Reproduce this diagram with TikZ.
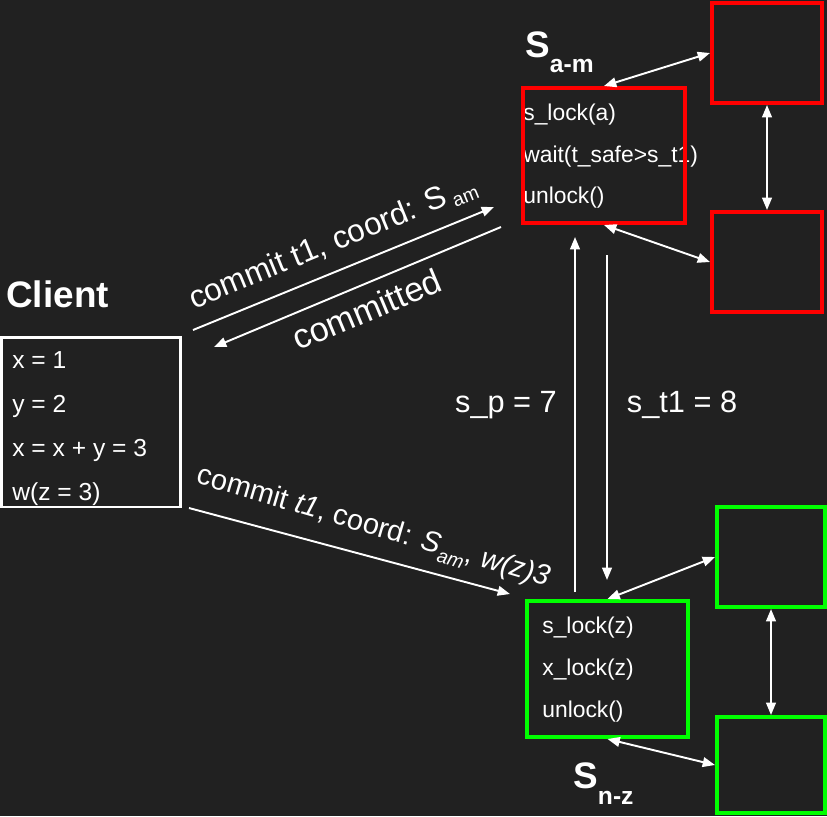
\documentclass[tikz,border=0pt]{standalone}
\usepackage{fontspec}
\setmainfont{Liberation Sans}
\usetikzlibrary{arrows.meta}
\definecolor{bgdark}{HTML}{212121}
\definecolor{srvred}{HTML}{FF0000}
\definecolor{srvgreen}{HTML}{00FF00}

\begin{document}
\begin{tikzpicture}[x=0.02cm,y=-0.02cm,
    every node/.style={text=white},
    msg/.style={white,line width=1.1pt,-{Triangle[length=7pt,width=5.5pt]}},
    link/.style={white,line width=1.1pt,{Triangle[length=7pt,width=5.5pt]}-{Triangle[length=7pt,width=5.5pt]}},
    redbox/.style={draw=srvred,line width=2.3pt,inner sep=0pt},
    greenbox/.style={draw=srvgreen,line width=2.3pt,inner sep=0pt},
    code/.style={anchor=base west,inner sep=0pt,font=\fontsize{13}{15}\selectfont},
    title/.style={anchor=base west,inner sep=0pt,font=\bfseries\fontsize{21}{25}\selectfont},
    lbl/.style={font=\fontsize{17.5}{21}\selectfont}]
    \fill[bgdark] (0,0) rectangle (827,816);%
    \useasboundingbox (0,0) rectangle (827,816);%

    % client
    \node[title] (clientname) at (6,307) {Client};%
    \node[code,font=\fontsize{14}{16}\selectfont] (cx) at (12,368) {x = 1};%
    \node[code,font=\fontsize{14}{16}\selectfont] (cy) at (12,412) {y = 2};%
    \node[code,font=\fontsize{14}{16}\selectfont] (cxy) at (12,456) {x = x + y = 3};%
    \node[code,font=\fontsize{14}{16}\selectfont] (cw) at (12,500) {w(z = 3)};%
    \node[draw=white,line width=1.7pt,minimum width=3.58cm,minimum height=3.4cm] (client) at (91,422) {};%

    % server a-m
    \node[title] (amname) at (525,57) {S\raisebox{-0.3cm}{\fontsize{14}{16}\selectfont a-m}};%
    \node[code] (am1) at (523,120) {s\_lock(a)};%
    \node[code] (am2) at (523,162) {wait(t\_safe>s\_t1)};%
    \node[code] (am3) at (523,203) {unlock()};%
    \node[redbox,minimum width=3.24cm,minimum height=2.7cm] (am) at (604,155.5) {};%
    \node[redbox,minimum width=2.2cm,minimum height=2cm] (amA) at (767,53) {};%
    \node[redbox,minimum width=2.2cm,minimum height=2cm] (amB) at (767,262) {};%

    % server n-z
    \node[title] (nzname) at (573,788) {S\raisebox{-0.32cm}{\fontsize{14}{16}\selectfont n-z}};%
    \node[code] (nz1) at (542,633) {s\_lock(z)};%
    \node[code] (nz2) at (542,675) {x\_lock(z)};%
    \node[code] (nz3) at (542,717) {unlock()};%
    \node[greenbox,minimum width=3.22cm,minimum height=2.72cm] (nz) at (607.5,669) {};%
    \node[greenbox,minimum width=2.16cm,minimum height=2cm] (nzA) at (771,557) {};%
    \node[greenbox,minimum width=2.16cm,minimum height=1.92cm] (nzB) at (771,765) {};%

    % replication links
    \draw[link] (am.north) -- (amA.west);%
    \draw[link] (amA.south) -- (amB.north);%
    \draw[link] (am.south) -- (amB.west);%
    \draw[link] (nz.north) -- (nzA.west);%
    \draw[link] (nzA.south) -- (nzB.north);%
    \draw[link] (nz.south) -- (nzB.west);%

    % client messages
    \coordinate (c1s) at (193,330);%
    \coordinate (c1e) at (494,207);%
    \coordinate (c2s) at (501,227);%
    \coordinate (c2e) at (214,347);%
    \coordinate (c3s) at (189,508);%
    \coordinate (c3e) at (510,594);%
    \draw[msg] (c1s) -- (c1e) node[lbl,font=\fontsize{18}{21}\selectfont,midway,sloped,above=4pt] {commit t1, coord: S\,\raisebox{-0.1cm}{\fontsize{11}{13}\selectfont am}};%
    \draw[msg] (c2s) -- (c2e);%
    \path (c2e) -- (c2s) node[lbl,font=\fontsize{19.5}{23}\selectfont,midway,sloped,below=3pt] {committed};%
    \draw[msg] (c3s) -- (c3e) node[lbl,font=\fontsize{16.5}{20}\selectfont,pos=0.55,sloped,above=4pt,rotate=-1.4] {commit \textit{t1}, coord: \textit{S}\raisebox{-0.15cm}{\fontsize{11}{13}\selectfont\itshape am}, \textit{w(z)3}};%

    % timestamps between servers
    \coordinate (spb) at (575,592);%
    \coordinate (spt) at (575,237);%
    \coordinate (stt) at (607,255);%
    \coordinate (stb) at (607,580);%
    \draw[msg] (spb) -- (spt);%
    \draw[msg] (stt) -- (stb);%
    \node[lbl] (sp) at (506,405) {s\_p = 7};%
    \node[lbl] (st) at (682,405) {s\_t1 = 8};%
\end{tikzpicture}
\end{document}
